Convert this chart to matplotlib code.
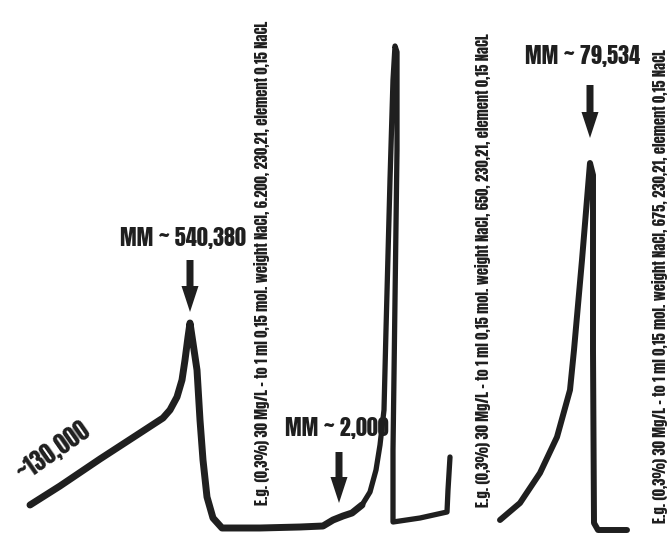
"""
Gel-filtration elution profile sketch with molecular mass markers
"""
import matplotlib
matplotlib.use("Agg")
import matplotlib.pyplot as plt

plt.rcParams['font.family'] = ['Anton', 'DejaVu Sans']

# elution position (x) and detector signal (y)
left_x = [30, 60, 100, 140, 163, 170, 177, 182, 185, 188, 190, 193, 197, 200,
          203, 207, 213, 222, 260, 300, 323, 333, 343, 352, 362]
left_y = [35, 54, 81, 107, 122, 130, 143, 160, 180, 203, 217, 197, 170, 120,
          80, 43, 22, 12, 12, 13, 14, 20, 24, 27, 35]

big_x = [362, 370, 376, 380, 384, 386, 390, 393, 395, 397, 397, 395, 393, 393,
         420, 447, 448, 450]
big_y = [35, 48, 70, 95, 130, 210, 360, 460, 494, 488, 390, 240, 90, 18,
         22, 28, 50, 83]

right_x = [500, 520, 540, 557, 570, 574, 582, 590, 593, 593, 594, 598, 627]
right_y = [20, 37, 67, 103, 150, 190, 280, 377, 365, 190, 17, 10, 10]

# mass markers: label, arrow position, arrow top, arrow tip
marker_labels = ['MM ~ 540,380', 'MM ~ 2,000', 'MM ~ 79,534']
marker_x = [190, 339, 590]
marker_top = [280, 88, 455]
marker_tip = [228, 37, 402]
label_x = [183, 337, 583]
label_y = [302, 112, 484]

# column condition notes (vertical)
note_text = [
    'E.g. (0,3%) 30 Mg/L \u2013 to 1 ml 0,15 mol. weight NaCl, 6.200, 230,21, element 0,15 NaCL',
    'E.g. (0,3%) 30 Mg/L \u2013 to 1 ml 0,15 mol. weight NaCl, 650, 230,21, element 0,15 NaCL',
    'E.g. (0,3%) 30 Mg/L \u2013 to 1 ml 0,15 mol. weight NaCl, 675, 230,21, element 0,15 NaCL',
]
note_x = [262, 483, 660]
note_y = [277, 270, 254]

ink = '#1f1f1f'

fig = plt.figure(figsize=(6.72, 5.4), dpi=100)
ax = fig.add_axes([0, 0, 1, 1])
ax.set_xlim(0, 672)
ax.set_ylim(0, 540)
ax.axis('off')

ax.plot(left_x, left_y, color=ink, lw=5, solid_capstyle='round', solid_joinstyle='round')
ax.plot(big_x, big_y, color=ink, lw=3.8, solid_capstyle='round', solid_joinstyle='round')
ax.plot(right_x, right_y, color=ink, lw=4.3, solid_capstyle='round', solid_joinstyle='round')

for lab, x, top, tip, lx, ly in zip(marker_labels, marker_x, marker_top, marker_tip, label_x, label_y):
    ax.arrow(x, top, 0, tip - top, width=7, head_width=17, head_length=26,
             length_includes_head=True, color=ink, lw=0)
    ax.text(lx, ly, lab, ha='center', va='center', fontsize=16, color=ink)

ax.text(53, 89, '~130,000', ha='center', va='center', rotation=35,
        rotation_mode='anchor', fontsize=17, color=ink)

for t, x, y in zip(note_text, note_x, note_y):
    ax.text(x, y, t, ha='center', va='center', rotation=90, fontsize=10.5,
            color=ink)

plt.savefig('out.png', dpi=100)
plt.close()
